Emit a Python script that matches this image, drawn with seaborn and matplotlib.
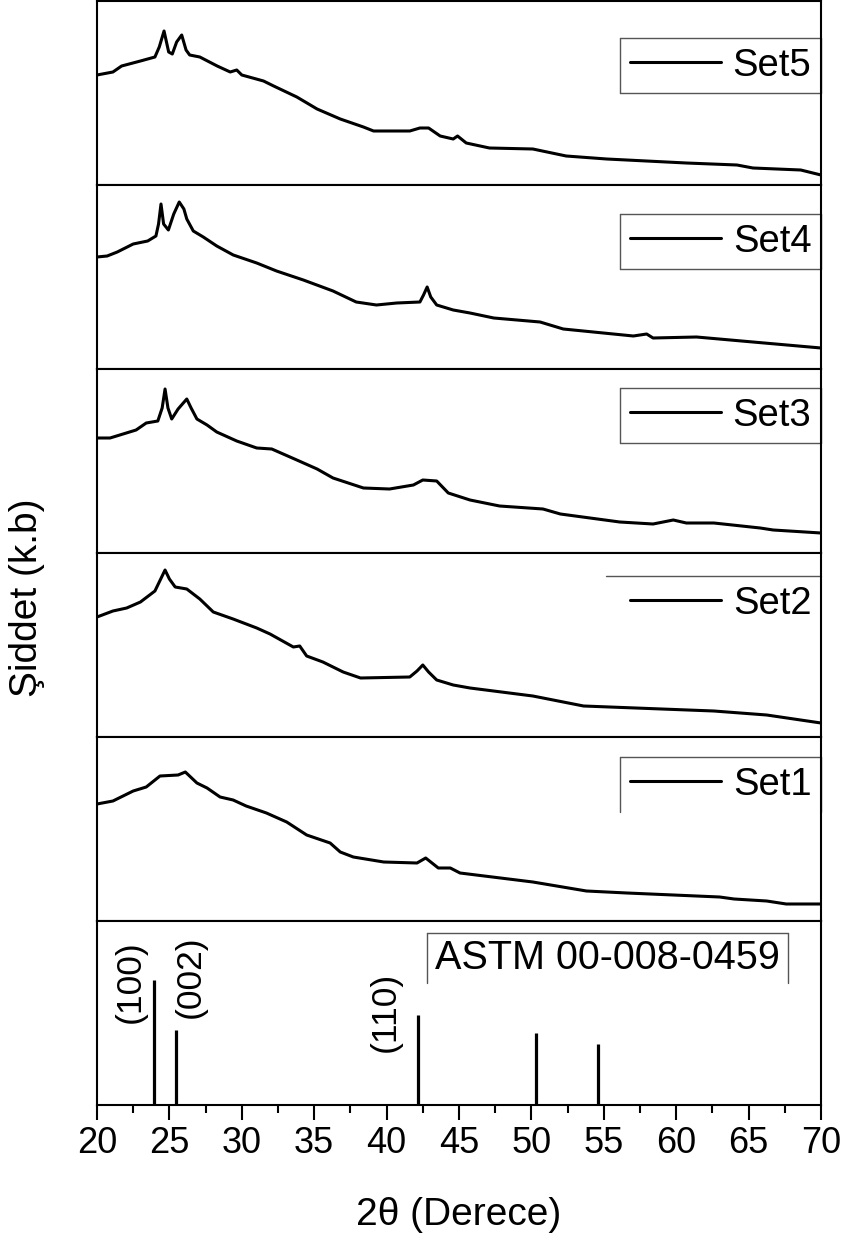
import numpy as np
import pandas as pd
import matplotlib
matplotlib.use("Agg")
import matplotlib.pyplot as plt
from matplotlib.ticker import MultipleLocator
from matplotlib.lines import Line2D
import seaborn as sns

# ---------------- data (arbitrary units) ----------------
set5_x = [20.0, 21.1, 21.7, 23.0, 24.0, 24.3, 24.63, 24.95, 25.2, 25.5, 25.85, 26.15, 26.4, 27.1, 28.3, 29.2, 29.65, 30.0, 31.5, 32.2, 33.8, 35.2, 36.8, 38.4, 39.1, 41.6, 42.3, 42.9, 43.7, 44.6, 44.9, 45.5, 47.1, 50.1, 52.4, 55.2, 60.7, 64.2, 65.3, 68.6, 70.0]
set5_y = [110, 113, 119, 124, 128, 138, 154, 133, 131, 143, 150, 135, 130, 128, 119, 113, 115, 110, 104, 99, 88, 76, 66, 58, 54, 54, 57, 57, 49, 46, 49, 42, 37, 36, 29, 26, 22, 20, 17, 15, 10]

set4_x = [20.0, 20.7, 21.4, 22.5, 23.5, 24.07, 24.25, 24.42, 24.6, 24.93, 25.3, 25.68, 26.0, 26.2, 26.65, 27.34, 28.27, 29.41, 31.03, 32.4, 34.25, 36.3, 37.9, 39.3, 40.7, 42.3, 42.55, 42.8, 43.05, 43.46, 44.6, 45.76, 47.4, 50.6, 52.2, 57.04, 57.96, 58.4, 61.4, 65.3, 70.0]
set4_y = [112, 113, 117, 125, 128, 133, 145, 165, 145, 139, 155, 167, 160, 150, 138, 132, 123, 114, 106, 98, 89, 78, 67, 64, 66, 67, 74, 82, 72, 64, 59, 56, 51, 47, 40, 33, 35, 31, 32, 27, 21]

set3_x = [20.0, 20.9, 21.8, 22.7, 23.4, 24.2, 24.5, 24.7, 24.9, 25.16, 25.6, 26.2, 26.5, 26.9, 27.6, 28.27, 29.65, 31.03, 32.07, 33.8, 35.2, 36.3, 38.4, 40.2, 41.85, 42.5, 43.46, 44.26, 45.76, 47.8, 50.8, 52.0, 56.1, 58.4, 59.8, 60.7, 62.6, 65.8, 66.7, 70.0]
set3_y = [115, 115, 119, 123, 130, 132, 145, 164, 145, 134, 144, 154, 145, 134, 128, 121, 112, 105, 104, 93, 84, 75, 65, 64, 68, 73, 72, 60, 53, 47, 44, 39, 31, 29, 33, 30, 30, 25, 23, 20]

set2_x = [20.0, 21.1, 22.05, 23.0, 24.0, 24.4, 24.7, 25.0, 25.4, 26.2, 27.1, 28.03, 29.4, 31.03, 31.95, 33.56, 34.0, 34.48, 35.6, 37.0, 38.2, 41.6, 42.1, 42.5, 42.9, 43.46, 44.6, 45.76, 50.1, 53.6, 62.6, 66.25, 70.0]
set2_y = [120, 126, 129, 135, 146, 158, 167, 158, 150, 148, 138, 125, 118, 109, 103, 90, 91, 81, 75, 65, 59, 60, 66, 72, 65, 57, 52, 49, 41, 31, 26, 22, 14]

set1_x = [20.0, 21.1, 22.5, 23.4, 24.35, 25.6, 26.1, 26.9, 27.6, 28.5, 29.4, 30.3, 31.7, 33.1, 34.48, 36.1, 36.8, 37.7, 39.8, 42.1, 42.7, 43.57, 44.4, 45.07, 50.1, 53.8, 56.6, 63.0, 64.0, 66.25, 67.6, 70.0]
set1_y = [117, 120, 130, 134, 145, 146, 149, 138, 133, 124, 121, 115, 108, 99, 86, 78, 69, 64, 59, 58, 63, 53, 53, 48, 39, 30, 28, 24, 22, 20, 17, 17]

astm_pos = [23.96, 25.43, 42.2, 50.3, 54.58]
astm_int = [125, 75, 90, 72, 61]
astm_labels = ["(100)", "(002)", "(110)"]

set_names = ["Set5", "Set4", "Set3", "Set2", "Set1"]
astm_name = "ASTM 00-008-0459"
x_label = "2θ (Derece)"
y_label = "Şiddet (k.b)"
x_ticks = [20, 25, 30, 35, 40, 45, 50, 55, 60, 65, 70]

series = [(set5_x, set5_y), (set4_x, set4_y), (set3_x, set3_y), (set2_x, set2_y), (set1_x, set1_y)]

# ---------------- style ----------------
sns.set_theme(style="white")
plt.rcParams["font.family"] = ["Liberation Sans", "DejaVu Sans"]
plt.rcParams["axes.linewidth"] = 1.5
plt.rcParams["axes.edgecolor"] = "black"
plt.rcParams["text.color"] = "black"
plt.rcParams["axes.labelcolor"] = "black"
plt.rcParams["xtick.color"] = "black"
plt.rcParams["ytick.color"] = "black"
plt.rcParams["legend.labelcolor"] = "black"

W, H = 848, 1241
fig = plt.figure(figsize=(W / 100, H / 100), dpi=100)
axes = fig.subplots(6, 1, sharex=True,
                    gridspec_kw=dict(hspace=0, left=97 / W, right=821 / W,
                                     top=1 - 1 / H, bottom=1 - 1105 / H))

# legend layout (top offset px from panel top, which borders are drawn)
leg_off = [37, 29, 19, 23, 20]
leg_sides = [("l", "t", "r", "b"), ("l", "t", "r", "b"), ("l", "t", "r", "b"), ("t",), ("l", "t", "r")]
leg_extend = [0, 0, 0, 14, 0]
PANEL_H = 184.0

legends = []
for i, (ax, (xs, ys), name) in enumerate(zip(axes[:5], series, set_names)):
    df = pd.DataFrame({"theta": xs, "intensity": ys})
    sns.lineplot(data=df, x="theta", y="intensity", ax=ax, color="black",
                 linewidth=2.2, estimator=None, sort=False, label=name)
    leg = ax.legend(loc="upper right", bbox_to_anchor=(1.0, 1 - leg_off[i] / PANEL_H),
                    borderaxespad=0, handlelength=2.4, handletextpad=0.3,
                    borderpad=0.25, fontsize=27.5, frameon=False, labelcolor="black")
    for h in leg.legend_handles:
        h.set_linewidth(2.2)
    legends.append((ax, leg, leg_sides[i], leg_extend[i]))

# ASTM reference panel
axA = axes[5]
axA.vlines(astm_pos, 0, astm_int, color="black", linewidth=2.3)
axA.text(22.28, 123, astm_labels[0], rotation=90, ha="center", va="center", fontsize=25.5)
axA.text(26.42, 128, astm_labels[1], rotation=90, ha="center", va="center", fontsize=25.5)
axA.text(39.9, 93, astm_labels[2], rotation=90, ha="center", va="center", fontsize=25.5)
astm_txt = axA.text(0.467, 1 - 37 / PANEL_H, astm_name, transform=axA.transAxes,
                    ha="left", va="center", fontsize=28.5)

for ax in axes:
    ax.set_xlim(20, 70)
    ax.set_ylim(0, PANEL_H)
    ax.set_yticks([])
    ax.set_ylabel("")
    ax.set_xlabel("")
    for s in ax.spines.values():
        s.set_visible(True)
        s.set_linewidth(1.5)
        s.set_color("black")
    ax.tick_params(axis="x", which="both", bottom=False, top=False, labelbottom=False)

axA.xaxis.set_major_locator(MultipleLocator(5))
axA.xaxis.set_minor_locator(MultipleLocator(2.5))
axA.set_xticks(x_ticks)
axA.tick_params(axis="x", which="major", bottom=True, direction="out", length=11,
                width=1.5, labelbottom=True, labelsize=26, pad=4, color="black",
                labelcolor="black")
axA.tick_params(axis="x", which="minor", bottom=True, direction="out", length=6,
                width=1.5, color="black")
axA.set_xlabel(x_label, fontsize=28, labelpad=26, color="black")

fig.text(27 / W, 1 - 598 / H, y_label, rotation=90, ha="center", va="center",
         fontsize=28, color="black")

# partial legend frames (drawn from measured legend extents)
fig.canvas.draw()
frame_kw = dict(color="#555555", linewidth=1.0, clip_on=False)

def draw_frame(ax, bb, sides, ext=0.0):
    x0, y0, x1, y1 = bb.x0 - ext, bb.y0, bb.x1, bb.y1
    segs = {"l": ([x0, x0], [y0, y1]), "r": ([x1, x1], [y0, y1]),
            "t": ([x0, x1], [y1, y1]), "b": ([x0, x1], [y0, y0])}
    for s in sides:
        xx, yy = segs[s]
        ax.add_line(Line2D(xx, yy, transform=ax.transAxes, **frame_kw))

for ax, leg, sides, ext in legends:
    bb = leg.get_window_extent().transformed(ax.transAxes.inverted())
    draw_frame(ax, bb, sides, ext / 724)

bbA = astm_txt.get_window_extent().transformed(axA.transAxes.inverted())
pad_x = 8 / 724
bbA.x0 -= pad_x; bbA.x1 += pad_x
bbA.y1 += 6 / PANEL_H; bbA.y0 -= 6 / PANEL_H
draw_frame(axA, bbA, ("l", "t", "r"))

fig.savefig("out.png", dpi=100)
